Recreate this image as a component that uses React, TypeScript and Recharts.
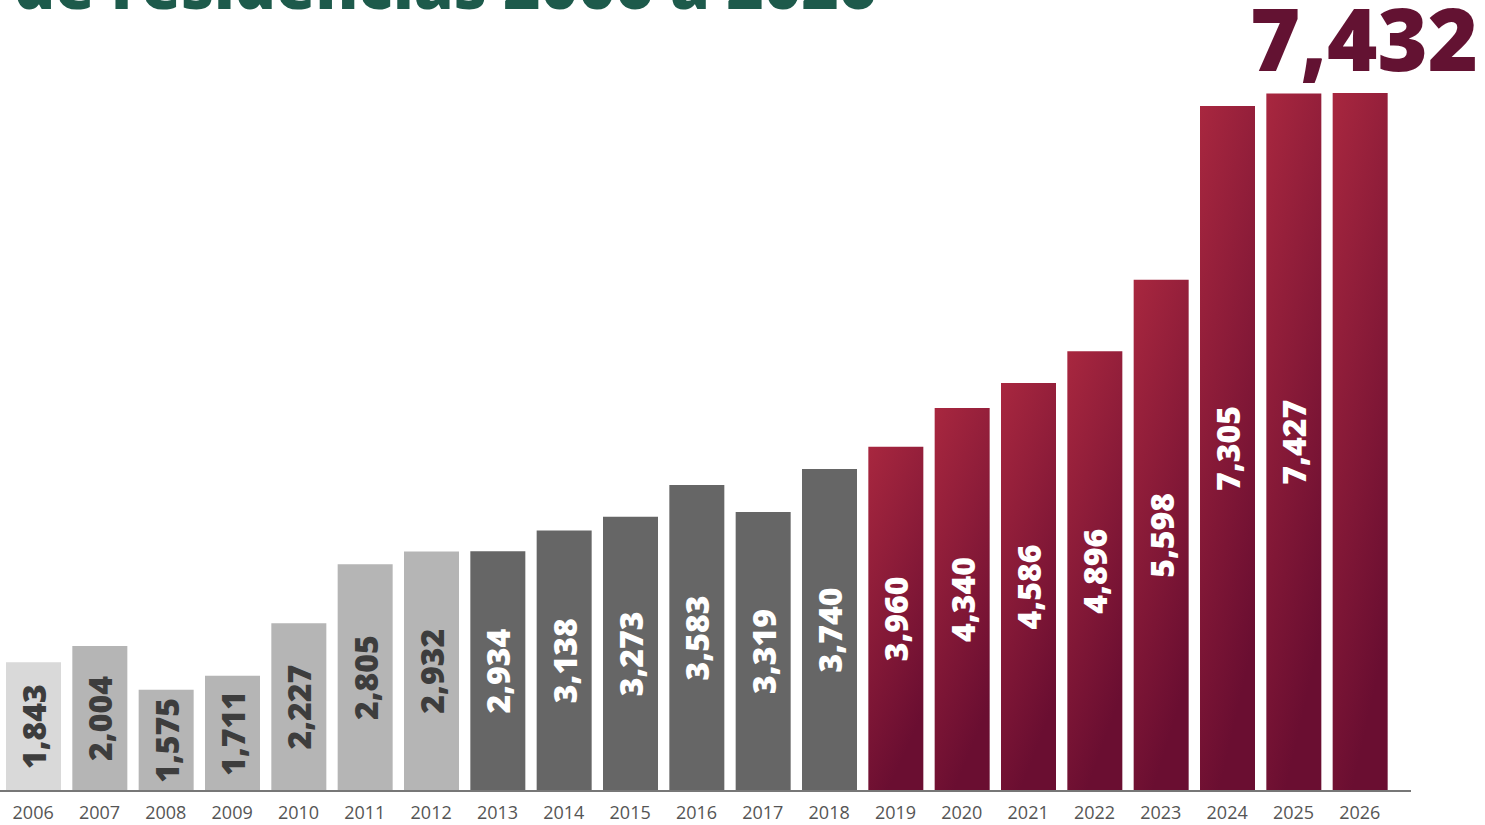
import React from "react";
import { Bar, BarChart, Cell, LabelList, XAxis, YAxis } from "recharts";

const years = [
  "2006", "2007", "2008", "2009", "2010", "2011", "2012",
  "2013", "2014", "2015", "2016", "2017", "2018",
  "2019", "2020", "2021", "2022", "2023", "2024", "2025", "2026",
];
const plazas = [
  1843, 2004, 1575, 1711, 2227, 2805, 2932,
  2934, 3138, 3273, 3583, 3319, 3740,
  3960, 4340, 4586, 4896, 5598, 7305, 7427, 7432,
];
const titleLine = "de residencias 2006 a 2026";

const data = years.map((year, i) => ({ year, value: plazas[i] }));
const last = plazas.length - 1;

const FONT = "'Open Sans', 'Noto Sans', sans-serif";

function barFill(year: string) {
  const y = Number(year);
  if (y <= 2006) return "#d9d9d9";
  if (y <= 2012) return "#b5b5b5";
  if (y <= 2018) return "#666666";
  return "url(#guinda)";
}

function textFill(year: string) {
  return Number(year) <= 2012 ? "#3d3d3d" : "#ffffff";
}

const fmt = (v: number) => v.toLocaleString("en-US");

function InnerLabel(props: any) {
  const vb = props.viewBox || props;
  const { x, y, width, height } = vb;
  const idx = props.index;
  if (idx === last) return null;
  const cx = x + width / 2;
  const cy = y + height / 2;
  return (
    <text
      x={cx}
      y={cy}
      transform={`rotate(-90 ${cx} ${cy})`}
      textAnchor="middle"
      dominantBaseline="central"
      fontFamily={FONT}
      fontWeight={800}
      fontSize={32}
      fill={textFill(years[idx] ?? "2026")}
    >
      {fmt(props.value)}
    </text>
  );
}

function TopLabel(props: any) {
  const vb = props.viewBox || props;
  if (props.index !== last) return null;
  const cx = vb.x + vb.width / 2;
  return (
    <text
      x={cx + 4}
      y={vb.y - 22}
      textAnchor="middle"
      fontFamily={FONT}
      fontWeight={800}
      fontSize={86}
      fill="#631232"
    >
      {fmt(props.value)}
    </text>
  );
}

export default function App() {
  return (
    <div
      style={{
        position: "absolute",
        left: 0,
        top: 0,
        width: 1485,
        height: 825,
        overflow: "hidden",
        background: "#ffffff",
      }}
    >
      <svg
        width={1485}
        height={60}
        style={{ position: "absolute", left: 0, top: 0 }}
      >
        <text
          x={14}
          y={9}
          fontFamily={FONT}
          fontWeight={800}
          fontSize={64}
          fill="#1d5a4b"
        >
          {titleLine}
        </text>
      </svg>
      <BarChart
        width={1485}
        height={825}
        data={data}
        margin={{ top: 93, right: 74, left: 0, bottom: 0 }}
        barSize={55}
      >
        <defs>
          <linearGradient id="guinda" x1="0" y1="0" x2="0.35" y2="1">
            <stop offset="0%" stopColor="#a8273f" />
            <stop offset="100%" stopColor="#6a0e31" />
          </linearGradient>
        </defs>
        <XAxis
          dataKey="year"
          height={34}
          interval={0}
          tickLine={false}
          tickSize={6}
          tickMargin={9}
          padding={{ left: 0, right: 18 }}
          axisLine={{ stroke: "#777777", strokeWidth: 2 }}
          tick={{ fontFamily: FONT, fontSize: 18, fill: "#555555" }}
        />
        <YAxis hide domain={[580, 7432]} allowDataOverflow />
        <Bar dataKey="value" isAnimationActive={false}>
          {data.map((d) => (
            <Cell key={d.year} fill={barFill(d.year)} />
          ))}
          <LabelList dataKey="value" content={InnerLabel} />
          <LabelList dataKey="value" content={TopLabel} />
        </Bar>
      </BarChart>
    </div>
  );
}
